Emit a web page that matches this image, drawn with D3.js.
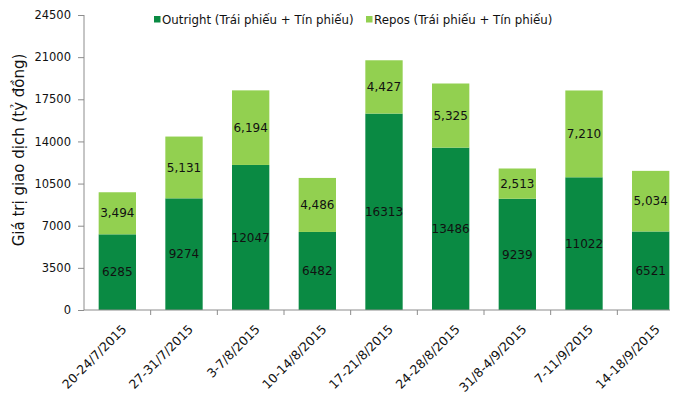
<!DOCTYPE html>
<html>
<head>
<meta charset="utf-8">
<script src="https://cdn.jsdelivr.net/npm/d3@7"></script>
<style>
  html, body { margin: 0; padding: 0; background: #fff; }
  svg { display: block; }
  text { font-family: "DejaVu Sans", Verdana, sans-serif; }
</style>
</head>
<body>
<svg id="chart" width="700" height="417"></svg>
<script>
const categories = ["20-24/7/2015", "27-31/7/2015", "3-7/8/2015", "10-14/8/2015", "17-21/8/2015", "24-28/8/2015", "31/8-4/9/2015", "7-11/9/2015", "14-18/9/2015"];
const outright = [6285, 9274, 12047, 6482, 16313, 13486, 9239, 11022, 6521];
const repos = [3494, 5131, 6194, 4486, 4427, 5325, 2513, 7210, 5034];
const yTicks = [0, 3500, 7000, 10500, 14000, 17500, 21000, 24500];
const seriesNames = ["Outright (Trái phiếu + Tín phiếu)", "Repos (Trái phiếu + Tín phiếu)"];
const colors = ["#0a8a43", "#92d050"];

const svg = d3.select("#chart");
const plotL = 84, plotR = 684, plotT = 15, plotB = 310;

const x = d3.scaleBand().domain(categories).range([plotL, plotR]).paddingInner(0.44).paddingOuter(0.22);
const y = d3.scaleLinear().domain([0, 24500]).range([plotB, plotT]);

const data = categories.map((c, i) => ({ cat: c, outright: outright[i], repos: repos[i] }));
const stack = d3.stack().keys(["outright", "repos"])(data);

// bars
const g = svg.append("g");
stack.forEach((layer, li) => {
  g.selectAll(null).data(layer).enter().append("rect")
    .attr("x", d => x(d.data.cat))
    .attr("width", x.bandwidth())
    .attr("y", d => y(d[1]))
    .attr("height", d => y(d[0]) - y(d[1]))
    .attr("fill", colors[li]);
});

// data labels
const fmtComma = d3.format(",");
stack.forEach((layer, li) => {
  g.selectAll(null).data(layer).enter().append("text")
    .attr("x", d => x(d.data.cat) + x.bandwidth() / 2)
    .attr("y", d => (y(d[0]) + y(d[1])) / 2)
    .attr("dy", "0.35em")
    .attr("text-anchor", "middle")
    .attr("font-size", "12px")
    .attr("fill", "#111")
    .text(d => li === 0 ? String(d[1] - d[0]) : fmtComma(d[1] - d[0]));
});

// y axis
const yAxis = d3.axisLeft(y).tickValues(yTicks).tickSize(6).tickPadding(7).tickFormat(d3.format("d"));
const yg = svg.append("g").attr("transform", `translate(${plotL},0)`).call(yAxis);
yg.select(".domain").attr("stroke", "#8c8c8c").attr("d", `M0,${plotT}V${plotB}`);
yg.selectAll(".tick line").attr("stroke", "#8c8c8c");
yg.selectAll(".tick text").attr("font-size", "11.5px").attr("fill", "#111")
  .attr("font-family", "'DejaVu Sans', Verdana, sans-serif");

// x axis
const xAxis = d3.axisBottom(x).tickSize(0).tickFormat("");
const xg = svg.append("g").attr("transform", `translate(0,${plotB})`).call(xAxis);
xg.select(".domain").attr("stroke", "#8c8c8c").attr("d", `M${plotL},0H670`);
// tick marks between categories
xg.selectAll(".sep").data(categories.slice(1)).enter().append("line")
  .attr("class", "sep")
  .attr("x1", d => x(d) - x.step() * x.paddingInner() / 2)
  .attr("x2", d => x(d) - x.step() * x.paddingInner() / 2)
  .attr("y1", 0).attr("y2", 5)
  .attr("stroke", "#8c8c8c");

// x labels rotated
svg.append("g").selectAll("text").data(categories).enter().append("text")
  .attr("transform", d => `translate(${x(d) + x.bandwidth() / 2 + 10},${plotB + 20}) rotate(-45)`)
  .attr("text-anchor", "end")
  .attr("font-size", "12.5px")
  .attr("fill", "#111")
  .text(d => d);

// y title
svg.append("text")
  .attr("transform", `translate(24,150) rotate(-90)`)
  .attr("text-anchor", "middle")
  .attr("font-size", "15px")
  .attr("font-family", "'Liberation Sans', Arial, sans-serif")
  .attr("fill", "#111")
  .text("Giá trị giao dịch (tỷ đồng)");

// legend
const legendX = [154, 366];
const lg = svg.append("g");
seriesNames.forEach((name, i) => {
  lg.append("rect").attr("x", legendX[i]).attr("y", 16).attr("width", 6.5).attr("height", 6.5).attr("fill", colors[i]);
  lg.append("text").attr("x", legendX[i] + 8).attr("y", 19.5).attr("dy", "0.35em")
    .attr("font-size", "11.8px").attr("fill", "#111").text(name);
});
</script>
</body>
</html>
